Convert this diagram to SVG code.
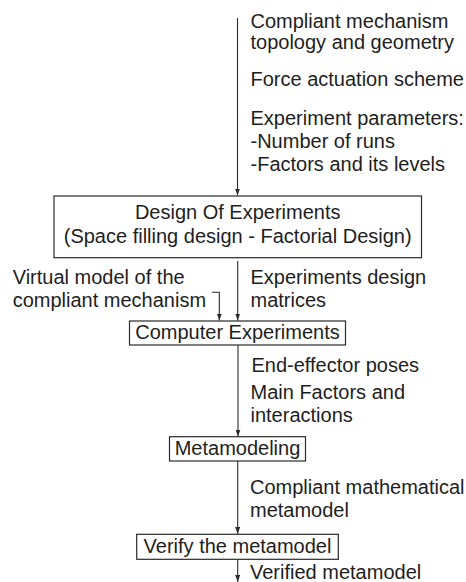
<svg xmlns="http://www.w3.org/2000/svg" width="466" height="582" viewBox="0 0 466 582">
<style>
text{font-family:"Liberation Sans",Arial,sans-serif;font-size:20px;fill:#1e1e1e}
.c{text-anchor:middle}
.box{fill:#fff;stroke:#2a2a2a;stroke-width:1.2}
.ln{fill:none;stroke:#2a2a2a;stroke-width:1.1}
</style>
<defs>
<marker id="ah" markerUnits="userSpaceOnUse" markerWidth="7" markerHeight="5" refX="7" refY="2.5" orient="auto">
<path d="M0,0 L7,2.5 L0,5 z" fill="#2a2a2a"/>
</marker>
</defs>
<g id="connectors">
<line class="ln" x1="237.5" y1="18" x2="237.5" y2="195.5" marker-end="url(#ah)"/>
<line class="ln" x1="237.7" y1="261" x2="237.7" y2="320.5" marker-end="url(#ah)"/>
<path class="ln" d="M212,292.3 H219.3 V320.5" marker-end="url(#ah)"/>
<line class="ln" x1="238" y1="345" x2="238" y2="436.5" marker-end="url(#ah)"/>
<line class="ln" x1="237.7" y1="461" x2="237.7" y2="534" marker-end="url(#ah)"/>
<line class="ln" x1="237.7" y1="559.5" x2="237.7" y2="582" marker-end="url(#ah)"/>
</g>
<g id="labels">
<text x="250.5" y="27.5">Compliant mechanism</text>
<text x="250.5" y="49">topology and geometry</text>
<text x="250.5" y="86">Force actuation scheme</text>
<text x="250.5" y="125">Experiment parameters:</text>
<text x="250.5" y="148">-Number of runs</text>
<text x="250.5" y="171">-Factors and its levels</text>
<text x="12.7" y="284">Virtual model of the</text>
<text x="12.7" y="306.7">compliant mechanism</text>
<text x="250.5" y="284">Experiments design</text>
<text x="250.5" y="306.5">matrices</text>
<text x="251.5" y="372">End-effector poses</text>
<text x="250.5" y="398.5">Main Factors and</text>
<text x="250.5" y="421.7">interactions</text>
<text x="250" y="493.5">Compliant mathematical</text>
<text x="250" y="516.7">metamodel</text>
<text x="250" y="578.5">Verified metamodel</text>
</g>
<g id="doe">
<rect class="box" x="54" y="196" width="367.5" height="61.7"/>
<text class="c" x="237.7" y="218.5">Design Of Experiments</text>
<text class="c" x="237.7" y="243">(Space filling design - Factorial Design)</text>
</g>
<g id="computer-experiments">
<rect class="box" x="129.5" y="321" width="216" height="24"/>
<text class="c" x="237.5" y="338.5">Computer Experiments</text>
</g>
<g id="metamodeling">
<rect class="box" x="169.5" y="436.7" width="136" height="24.3"/>
<text class="c" x="237.5" y="455">Metamodeling</text>
</g>
<g id="verify">
<rect class="box" x="136.7" y="534.3" width="201.6" height="25"/>
<text class="c" x="237.5" y="552.7">Verify the metamodel</text>
</g>
</svg>
